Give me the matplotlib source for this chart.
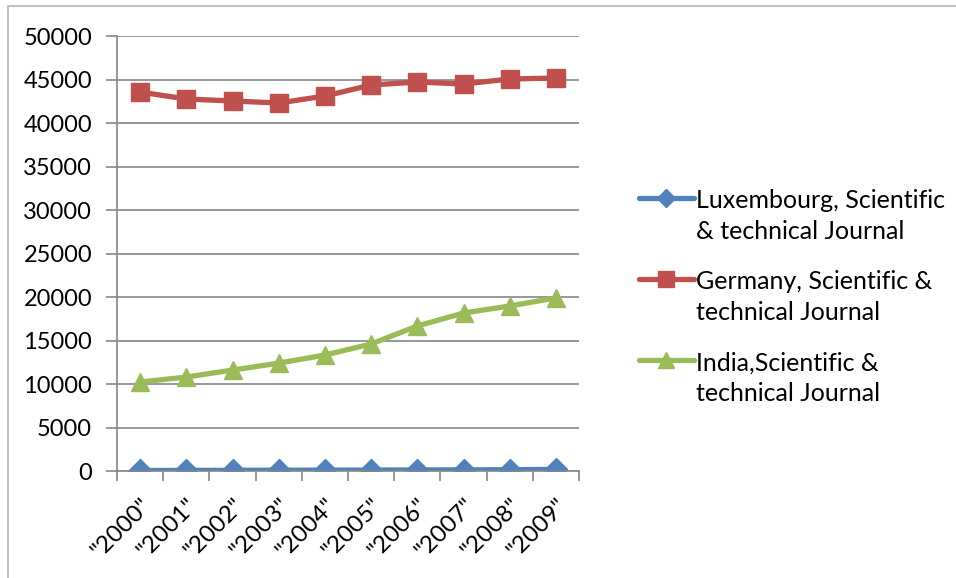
import matplotlib.pyplot as plt
from matplotlib.patches import Rectangle

years = ['"2000"', '"2001"', '"2002"', '"2003"', '"2004"',
         '"2005"', '"2006"', '"2007"', '"2008"', '"2009"']

luxembourg = [60, 70, 80, 90, 100, 110, 120, 130, 150, 180]
germany = [43560, 42760, 42530, 42300, 43100, 44370, 44710, 44480, 45060, 45170]
india = [10230, 10800, 11600, 12400, 13330, 14600, 16670, 18160, 18970, 19890]

labels = ['Luxembourg, Scientific\n& technical Journal',
          'Germany, Scientific &\ntechnical Journal',
          'India,Scientific &\ntechnical Journal']

plt.rcParams['font.family'] = ['Lato', 'DejaVu Sans']

fig = plt.figure(figsize=(9.56, 5.78), dpi=100)
ax = fig.add_axes([0.1224, 0.1851, 0.4833, 0.7526])

# outer chart border (only top/left visible in the crop)
fig.patches.append(Rectangle((8 / 956, -0.1), 1.2, 1 - 6 / 578 + 0.1,
                             transform=fig.transFigure, fill=False,
                             edgecolor='#b5b5b5', linewidth=1.2))

x = range(len(years))
ax.plot(x, luxembourg, color='#4F81BD', lw=3.8, marker='D', ms=11,
        label=labels[0], solid_capstyle='round')
ax.plot(x, germany, color='#C0504D', lw=3.8, marker='s', ms=13,
        label=labels[1], solid_capstyle='round')
ax.plot(x, india, color='#9BBB59', lw=3.8, marker='^', ms=13,
        label=labels[2], solid_capstyle='round')

ax.set_xlim(-0.5, len(years) - 0.5)
ax.set_ylim(0, 50000)
ax.set_yticks(range(0, 50001, 5000))
ax.set_xticks(x)
ax.set_xticklabels(years, rotation=45, ha='right', va='top',
                   rotation_mode='anchor', fontsize=17.5)
ax.set_xticks([i - 0.5 for i in range(len(years) + 1)], minor=True)
ax.tick_params(axis='x', which='major', length=0, pad=17)
ax.tick_params(axis='x', which='minor', length=7, color='#868686', width=1.2)
ax.tick_params(axis='y', length=8, color='#868686', width=1.2, pad=10,
               labelsize=17)

ax.grid(axis='y', color='#868686', lw=1.2)
ax.set_axisbelow(True)
for s in ['top', 'right']:
    ax.spines[s].set_visible(False)
for s in ['left', 'bottom']:
    ax.spines[s].set_color('#868686')
    ax.spines[s].set_linewidth(1.2)

leg = ax.legend(loc='center left', bbox_to_anchor=(1.08, 0.40), frameon=False,
                fontsize=18, handlelength=2.2, handletextpad=0.1,
                labelspacing=1.1, markerscale=0.85)
for t in leg.get_texts():
    t.set_linespacing(1.4)
for col in leg._legend_handle_box.get_children():
    for entry in col.get_children():
        entry.align = 'top'

fig.savefig('out.png', dpi=100)
